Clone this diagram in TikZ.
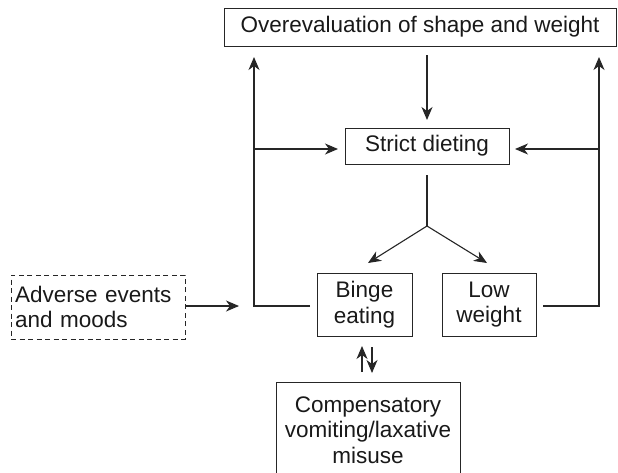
\documentclass[tikz,border=0pt]{standalone}
\usepackage{fontspec}
\setmainfont{Liberation Sans}
\usetikzlibrary{arrows.meta}
\begin{document}
\begin{tikzpicture}[x=1pt,y=-1pt,
  box/.style={draw=black!85,line width=1pt,inner sep=0pt,align=center,text=black!90,
    font=\fontsize{22.5}{25.5}\selectfont},
  conn/.style={draw=black!85,line width=1.1pt},
  arr/.style={conn,-{Stealth[length=13pt,width=11pt,inset=4pt]}}]
\useasboundingbox (0,0) rectangle (618,472);
\node[box,minimum width=392pt,minimum height=38pt] (top) at (420,27) {Overevaluation of shape and weight};
\node[box,minimum width=164pt,minimum height=36pt] (strict) at (427,146) {Strict dieting};
\node[box,minimum width=95pt,minimum height=63pt] (binge) at (364.5,304.5) {Binge\\eating};
\node[box,minimum width=94pt,minimum height=63pt] (low) at (489,304.5) {Low\\weight};
\node[box,dashed,dash pattern=on 5pt off 3.5pt,minimum width=174pt,minimum height=64pt,align=left,text width=166pt] (adv) at (98,307) {Adverse events\\and moods};
\node[box,minimum width=184pt,minimum height=96pt] (comp) at (368,430) {Compensatory\\vomiting/laxative\\misuse};
% coordinates
\coordinate (fork) at (427,226);
\coordinate (lb) at (254,306);
\coordinate (lt) at (254,57);
\coordinate (lm) at (254,149);
\coordinate (rb) at (599,306);
\coordinate (rt) at (599,57);
\coordinate (rm) at (599,149);
% connectors
\draw[arr] (427,55) -- (427,120);
\draw[conn] (427,175) -- (fork);
\draw[arr] (fork) -- (368,263);
\draw[arr] (fork) -- (487,263);
\draw[arr] (310,306) -- (lb) -- (lt);
\draw[arr] (lm) -- (338,149);
\draw[arr] (543,306) -- (rb) -- (rt);
\draw[arr] (rm) -- (515,149);
\draw[arr] (adv.east |- 0,306) -- (239,306);
\draw[arr] (362,372) -- (362,346);
\draw[arr] (372,347) -- (372,373);
\end{tikzpicture}
\end{document}
